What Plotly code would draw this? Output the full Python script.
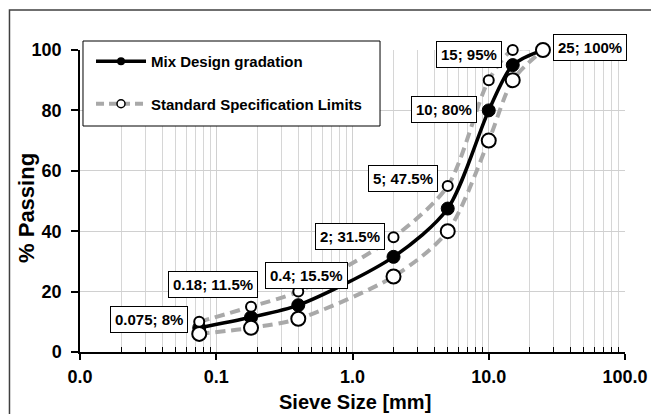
import math
import plotly.graph_objects as go

# ---- data ----
sieve_mm = [0.075, 0.18, 0.4, 2, 5, 10, 15, 25]
mix_passing = [8, 11.5, 15.5, 31.5, 47.5, 80, 95, 100]
spec_upper = [10, 15, 20, 38, 55, 90, 100, 100]
spec_lower = [6, 8, 11, 25, 40, 70, 90, 100]

x_tickvals = [0.01, 0.1, 1, 10, 100]
x_ticktext = ["0.0", "0.1", "1.0", "10.0", "100.0"]
y_tickvals = [0, 20, 40, 60, 80, 100]

series_names = ["Mix Design gradation", "Standard Specification Limits"]
x_title = "Sieve Size [mm]"
y_title = "% Passing"

# label offsets (px) relative to each mix point
label_dx = [-50, -38, 8, -44, -45, -45, -44, 47]
label_dy = [8, 33, 30, 20, 30, 1, 11, 3]

minor_vals = [m * 10 ** e for e in range(-2, 2) for m in range(2, 10)]

BLACK = "#000000"
GREY = "#a9a9a9"
FONT = "Liberation Sans, Arial, sans-serif"

fig = go.Figure()

# mix design line
fig.add_trace(go.Scatter(
    x=sieve_mm, y=mix_passing, mode="lines+markers", cliponaxis=False,
    line=dict(color=BLACK, width=3.5, shape="spline", smoothing=0.8),
    marker=dict(color=BLACK, size=13, line=dict(color=BLACK, width=1)),
    showlegend=False, hoverinfo="skip"))

# spec limits
fig.add_trace(go.Scatter(
    x=sieve_mm, y=spec_upper, mode="lines+markers", cliponaxis=False,
    line=dict(color=GREY, width=4, dash="10px,6px", shape="spline", smoothing=0.8),
    marker=dict(color="white", size=10, line=dict(color=BLACK, width=2)),
    showlegend=False, hoverinfo="skip"))
fig.add_trace(go.Scatter(
    x=sieve_mm, y=spec_lower, mode="lines+markers", cliponaxis=False,
    line=dict(color=GREY, width=4, dash="10px,6px", shape="spline", smoothing=0.8),
    marker=dict(color="white", size=14, line=dict(color=BLACK, width=2)),
    showlegend=False, hoverinfo="skip"))

# legend entries
fig.add_trace(go.Scatter(
    x=[None], y=[None], mode="lines+markers", name=series_names[0],
    line=dict(color=BLACK, width=3.5),
    marker=dict(color=BLACK, size=8), legendgroup="a"))
fig.add_trace(go.Scatter(
    x=[None], y=[None], mode="lines+markers", name=series_names[1],
    line=dict(color=GREY, width=4, dash="8px,5px"),
    marker=dict(color="white", size=8, line=dict(color=BLACK, width=1.5)),
    legendgroup="b"))

annotations = []
for xv, yv, dx, dy in zip(sieve_mm, mix_passing, label_dx, label_dy):
    annotations.append(dict(
        x=math.log10(xv), y=yv, xref="x", yref="y", text=f"{xv:g}; {yv:g}%",
        showarrow=False, xshift=dx, yshift=dy,
        font=dict(family=FONT, size=15, color=BLACK, weight="bold"),
        bgcolor="white", bordercolor=BLACK, borderwidth=1, borderpad=4))

# axis titles
annotations.append(dict(
    text=x_title, xref="paper", yref="paper", x=0.505, y=-0.166,
    xanchor="center", yanchor="middle", showarrow=False,
    font=dict(family=FONT, size=20, color=BLACK, weight="bold")))
annotations.append(dict(
    text=y_title, xref="paper", yref="paper", x=-0.0972, y=0.477,
    xanchor="center", yanchor="middle", showarrow=False, textangle=-90,
    font=dict(family=FONT, size=22, color=BLACK, weight="bold")))

fig.update_layout(
    width=651, height=414,
    margin=dict(l=80, r=26, t=50, b=62, autoexpand=False),
    paper_bgcolor="white", plot_bgcolor="white",
    font=dict(family=FONT, color=BLACK),
    annotations=annotations,
    legend=dict(
        x=0.0202, y=1.0166, xanchor="left", yanchor="top",
        bgcolor="rgba(0,0,0,0)", borderwidth=0,
        font=dict(family=FONT, size=15, color=BLACK, weight="bold"),
        itemwidth=50, tracegroupgap=20),
    shapes=[
        dict(type="rect", xref="paper", yref="paper",
             x0=-0.1294, x1=2, y0=-1, y1=1.1325,
             line=dict(color="#404040", width=1.5), layer="above"),
        dict(type="rect", xref="paper", yref="paper",
             x0=0.0055, x1=0.5505, y0=0.7483, y1=1.0298,
             fillcolor="white", line=dict(color=BLACK, width=1), layer="above"),
    ],
    xaxis=dict(
        type="log", range=[-2, 2], automargin=False,
        tickmode="array", tickvals=x_tickvals, ticktext=x_ticktext,
        ticks="outside", ticklen=6, tickwidth=1.5, tickcolor=BLACK,
        showline=True, linecolor=BLACK, linewidth=1.5,
        showgrid=True, gridcolor="#d0d0d0", gridwidth=1,
        minor=dict(tickmode="array", tickvals=minor_vals, ticks="inside",
                   ticklen=5, tickcolor=BLACK, tickwidth=1,
                   showgrid=True, gridcolor="#d6d6d6", gridwidth=1),
        tickfont=dict(family=FONT, size=18, color=BLACK, weight="bold"),
        ticklabelstandoff=2, zeroline=False),
    yaxis=dict(
        range=[0, 100], tickmode="array", tickvals=y_tickvals, automargin=False,
        ticks="outside", ticklen=7, tickwidth=1.5, tickcolor=BLACK,
        showline=True, linecolor=BLACK, linewidth=1.5,
        showgrid=True, gridcolor="#d0d0d0", gridwidth=1,
        tickfont=dict(family=FONT, size=18, color=BLACK, weight="bold"),
        ticklabelstandoff=6, zeroline=False),
)

fig.write_html("out.html", config={"displayModeBar": False},
               post_script="document.body.style.margin='0';")
